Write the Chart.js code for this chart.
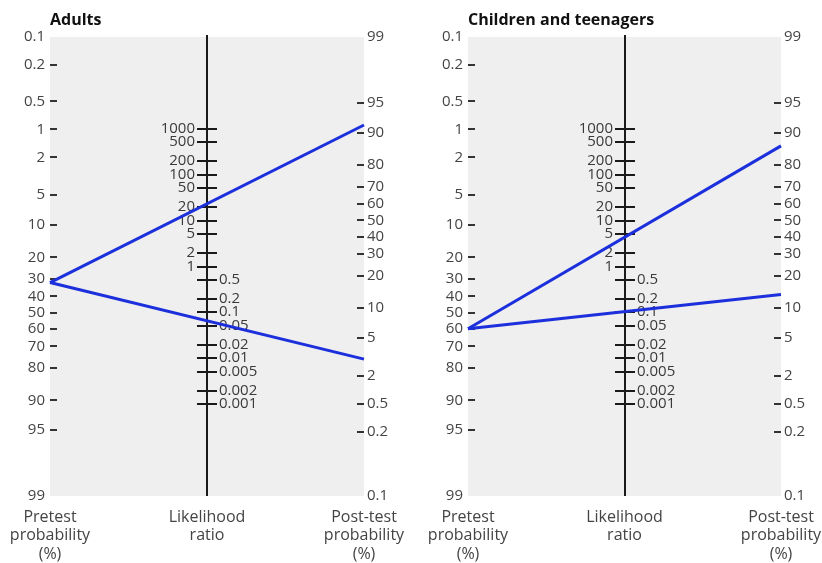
<!DOCTYPE html>
<html><head><meta charset="utf-8">
<script src="https://cdn.jsdelivr.net/npm/chart.js@4.4.1/dist/chart.umd.min.js"></script>
<style>
html,body{margin:0;padding:0;background:#fff;overflow:hidden}
#wrap{position:relative;width:822px;height:563px;overflow:hidden}
canvas{position:absolute;top:0}
#c1{left:0}
#c2{left:411px}
</style></head><body>
<div id="wrap"><canvas id="c1" width="411" height="563"></canvas><canvas id="c2" width="440" height="563"></canvas></div>
<script>
// ---------- data ----------
const panelTitles = ['Adults', 'Children and teenagers'];
const pretestTicks = [0.1, 0.2, 0.5, 1, 2, 5, 10, 20, 30, 40, 50, 60, 70, 80, 90, 95, 99];
const pretestTickLabels = ['0.1', '0.2', '0.5', '1', '2', '5', '10', '20', '30', '40', '50', '60', '70', '80', '90', '95', '99'];
const posttestTicks = [0.1, 0.5, 1, 2, 5, 10, 20, 30, 40, 50, 60, 70, 80, 90, 95, 99];
const posttestTickLabels = ['0.1', '0.2', '0.5', '2', '5', '10', '20', '30', '40', '50', '60', '70', '80', '90', '95', '99'];
const lrTicks = [1000, 500, 200, 100, 50, 20, 10, 5, 2, 1, 0.5, 0.2, 0.1, 0.05, 0.02, 0.01, 0.005, 0.002, 0.001];
const lrTickLabels = ['1000', '500', '200', '100', '50', '20', '10', '5', '2', '1', '0.5', '0.2', '0.1', '0.05', '0.02', '0.01', '0.005', '0.002', '0.001'];
const axisTitles = [['Pretest', 'probability', '(%)'], ['Likelihood', 'ratio'], ['Post-test', 'probability', '(%)']];
const adultsPretest = [32, 32];
const adultsPosttest = [91.6, 3.0];
const childrenPretest = [60, 60];
const childrenPosttest = [86.6, 13.5];
const probMin = 0.1, probMax = 99;

// ---------- helpers ----------
function logit(pct) { const p = pct / 100; return Math.log(p / (1 - p)); }
const LO = logit(probMin), HI = logit(probMax);
const lrMax = Math.exp(HI - LO);
// pre scale is reversed, post scale is not: same pixel when values sum to LO+HI
function postOnPreScale(pct) { return LO + HI - logit(pct); }

const FONT = "'Open Sans', sans-serif";
const BLUE = '#1c2fdc';

const bgPlugin = {
  id: 'bg',
  beforeDraw(chart) {
    const a = chart.chartArea, ctx = chart.ctx;
    ctx.save();
    ctx.fillStyle = '#efefef';
    ctx.fillRect(a.left, a.top, a.right - a.left, a.bottom - a.top);
    ctx.restore();
  }
};

const centerAxisPlugin = {
  id: 'centerAxis',
  beforeDatasetsDraw(chart) {
    const a = chart.chartArea, ctx = chart.ctx;
    const x = Math.round(chart.scales.x.getPixelForValue(0.5));
    const lr = chart.scales.lr;
    ctx.save();
    ctx.strokeStyle = '#1a1a1a';
    ctx.lineWidth = 2;
    ctx.beginPath();
    ctx.moveTo(x, a.top - 2);
    ctx.lineTo(x, a.bottom);
    ctx.stroke();
    ctx.font = '15px ' + FONT;
    ctx.fillStyle = '#3a3a3a';
    ctx.textBaseline = 'middle';
    lrTicks.forEach((v, i) => {
      const y = Math.round(lr.getPixelForValue(v));
      ctx.beginPath();
      ctx.moveTo(x - 10, y);
      ctx.lineTo(x + 10, y);
      ctx.stroke();
      if (v >= 1) { ctx.textAlign = 'right'; ctx.fillText(lrTickLabels[i], x - 12, y); }
      else { ctx.textAlign = 'left'; ctx.fillText(lrTickLabels[i], x + 12, y); }
    });
    ctx.restore();
  }
};

const titlePlugin = {
  id: 'panelTitle',
  afterDraw(chart) {
    const ctx = chart.ctx;
    ctx.save();
    ctx.font = 'bold 16px ' + FONT;
    ctx.fillStyle = '#111';
    ctx.textAlign = 'left';
    ctx.textBaseline = 'middle';
    ctx.fillText(chart.options.plugins.panelTitle.text, chart.chartArea.left, 20);
    ctx.restore();
  }
};

function tickColor(n) {
  return c => (c.index === 0 || c.index === n - 1) ? 'rgba(0,0,0,0)' : '#333';
}

function makePanel(id, title, pre, post, leftW, rightW) {
  const datasets = pre.map((p, i) => ({
    data: [{ x: 0, y: logit(p) }, { x: 1, y: postOnPreScale(post[i]) }],
    xAxisID: 'x', yAxisID: 'pre',
    borderColor: BLUE, borderWidth: 3, pointRadius: 0, fill: false,
    clip: false, tension: 0
  }));
  return new Chart(document.getElementById(id), {
    type: 'line',
    data: { datasets },
    options: {
      responsive: false, animation: false,
      layout: { padding: { top: 37, left: 0, right: 0, bottom: 0 } },
      plugins: { legend: { display: false }, tooltip: { enabled: false }, panelTitle: { text: title } },
      events: [],
      scales: {
        x: {
          type: 'linear', position: 'bottom', min: 0, max: 1,
          afterBuildTicks: s => { s.ticks = [0, 0.5, 1].map(v => ({ value: v })); },
          afterFit: s => { s.height = 67; s.paddingLeft = 0; s.paddingRight = 0; },
          ticks: { autoSkip: false, maxRotation: 0, padding: 12, color: '#444',
                   font: { family: FONT, size: 16, lineHeight: 1.16 },
                   callback: (v, i) => axisTitles[i] },
          grid: { display: false, drawTicks: false }, border: { display: false }
        },
        pre: {
          type: 'linear', position: 'left', reverse: true, min: LO, max: HI,
          afterBuildTicks: s => { s.ticks = pretestTicks.map(v => ({ value: logit(v) })); },
          afterFit: s => { s.width = leftW; },
          ticks: { autoSkip: false, padding: 12, color: '#444', font: { family: FONT, size: 15 },
                   callback: (v, i) => pretestTickLabels[i] },
          grid: { drawOnChartArea: false, tickLength: -7, lineWidth: 2, color: tickColor(pretestTicks.length) },
          border: { display: false }
        },
        post: {
          type: 'linear', position: 'right', min: LO, max: HI,
          afterBuildTicks: s => { s.ticks = posttestTicks.map(v => ({ value: logit(v) })); },
          afterFit: s => { s.width = rightW; },
          ticks: { autoSkip: false, padding: 10, color: '#444', font: { family: FONT, size: 15 },
                   callback: (v, i) => posttestTickLabels[i] },
          grid: { drawOnChartArea: false, tickLength: -7, lineWidth: 2, color: tickColor(posttestTicks.length) },
          border: { display: false }
        },
        lr: { type: 'logarithmic', position: 'right', display: false, min: 1 / lrMax, max: lrMax }
      }
    },
    plugins: [bgPlugin, centerAxisPlugin, titlePlugin]
  });
}

makePanel('c1', panelTitles[0], adultsPretest, adultsPosttest, 50, 47);
makePanel('c2', panelTitles[1], childrenPretest, childrenPosttest, 57, 70);
</script>
</body></html>
